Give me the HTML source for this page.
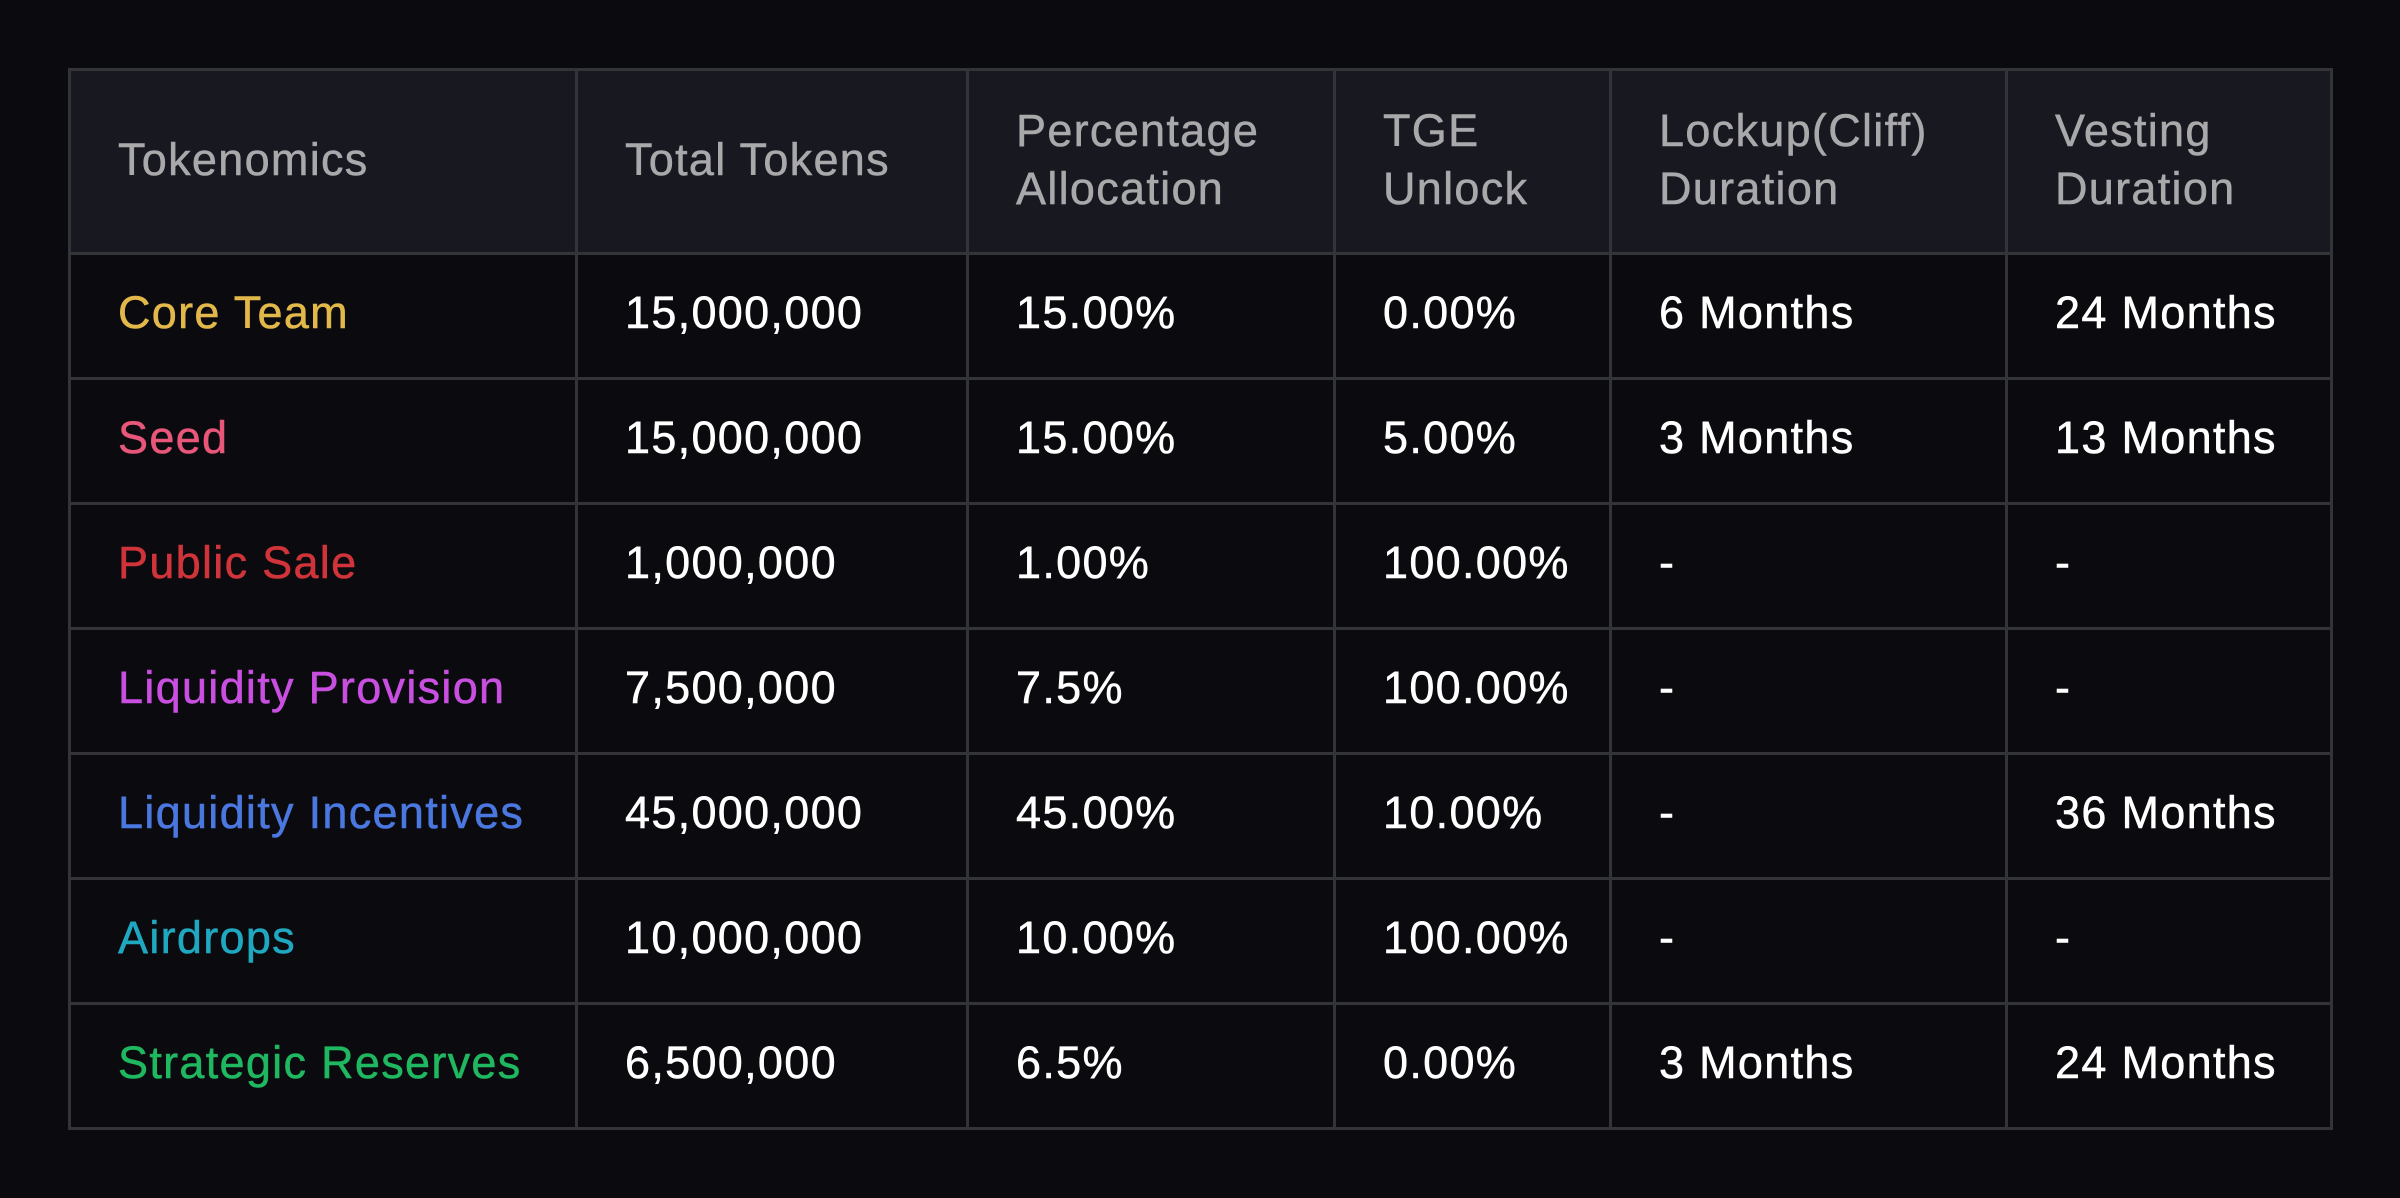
<!DOCTYPE html>
<html><head><meta charset="utf-8"><style>
html,body{margin:0;padding:0;background:#0b0b0f;width:2400px;height:1198px;overflow:hidden}
table{position:absolute;left:68px;top:68px;border-collapse:collapse;font-family:"Liberation Sans",sans-serif;font-size:45px;letter-spacing:1.3px}
td,th{border:3px solid #333438;padding:0 0 7px 47px;text-align:left;vertical-align:middle;color:#fff;font-weight:normal;box-sizing:border-box;-webkit-text-stroke:0.5px currentColor}
th{background:#171820;color:#a9a9ab;height:184px;line-height:58px;padding-bottom:4px}
td{height:125px;background:#0b0b0f}
</style></head><body>
<table>
<colgroup><col style="width:507px"><col style="width:391px"><col style="width:367px"><col style="width:276px"><col style="width:396px"><col style="width:325px"></colgroup>
<tr><th>Tokenomics</th><th>Total Tokens</th><th>Percentage<br>Allocation</th><th>TGE<br>Unlock</th><th>Lockup(Cliff)<br>Duration</th><th>Vesting<br>Duration</th></tr>
<tr><td style="color:#e2b84a">Core Team</td><td>15,000,000</td><td>15.00%</td><td>0.00%</td><td>6 Months</td><td>24 Months</td></tr>
<tr><td style="color:#e8567a">Seed</td><td>15,000,000</td><td>15.00%</td><td>5.00%</td><td>3 Months</td><td>13 Months</td></tr>
<tr><td style="color:#d0343a">Public Sale</td><td>1,000,000</td><td>1.00%</td><td>100.00%</td><td>-</td><td>-</td></tr>
<tr><td style="color:#c94fe0">Liquidity Provision</td><td>7,500,000</td><td>7.5%</td><td>100.00%</td><td>-</td><td>-</td></tr>
<tr><td style="color:#4a78e0">Liquidity Incentives</td><td>45,000,000</td><td>45.00%</td><td>10.00%</td><td>-</td><td>36 Months</td></tr>
<tr><td style="color:#1fa8c0">Airdrops</td><td>10,000,000</td><td>10.00%</td><td>100.00%</td><td>-</td><td>-</td></tr>
<tr><td style="color:#1fb860">Strategic Reserves</td><td>6,500,000</td><td>6.5%</td><td>0.00%</td><td>3 Months</td><td>24 Months</td></tr>
</table>
</body></html>
